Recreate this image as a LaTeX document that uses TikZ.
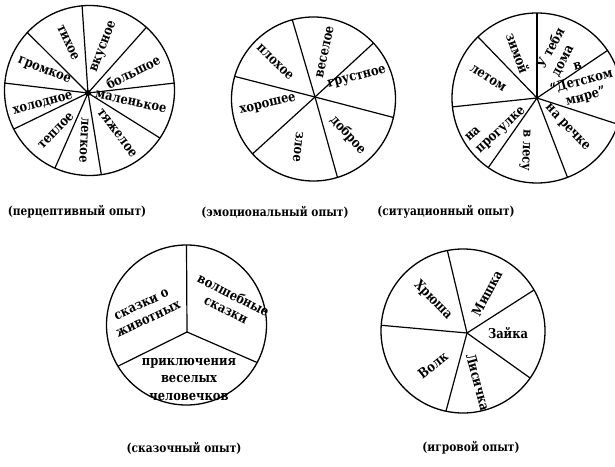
\documentclass[tikz,border=0pt]{standalone}
\usepackage{fontspec}
\setmainfont{DejaVu Serif}
\newfontfamily\wheelfont{DejaVu Serif}[FakeStretch=0.85]
\usetikzlibrary{calc}
\tikzset{
  rim/.style={line width=1.3pt},
  spoke/.style={line width=1.2pt},
  lbl/.style={inner sep=0pt, font=\wheelfont\bfseries\fontsize{13.5}{16}\selectfont},
  captext/.style={inner sep=0pt, font=\wheelfont\bfseries\fontsize{12.5}{14}\selectfont}
}
\begin{document}
\begin{tikzpicture}[x=1pt,y=1pt]
\clip (0,0) rectangle (615,466);
\fill[white] (0,0) rectangle (615,466);
% ---------- wheel 1 ----------
\coordinate (c1) at (89.5,375.5);
\coordinate (j1) at (88,373);
\draw[rim] (c1) circle (85);
\foreach \a in {95,48,5,-34,-82,-114,-153,175,137}
  \draw[spoke] (j1) -- ($(c1)+(\a:85)$);
\fill (j1) circle (3);
\node[lbl,rotate=-65] (t1) at (68,423) {тихое};
\node[lbl,rotate=69] (t2) at (104,419) {вкусное};
\node[lbl,rotate=27] (t3) at (133,394) {большое};
\node[lbl,rotate=-12] (t4) at (131,364) {маленькое};
\node[lbl,rotate=-53] (t5) at (117,333) {тяжелое};
\node[lbl,rotate=-93] (t6) at (84,326) {легкое};
\node[lbl,rotate=46] (t7) at (56,335) {теплое};
\node[lbl,rotate=15] (t8) at (43,362) {холодное};
\node[lbl,rotate=-22] (t9) at (44,395) {громкое};
% ---------- wheel 2 ----------
\coordinate (c2) at (313.5,367);
\coordinate (j2) at (315,369);
\draw[rim] (c2) circle (82);
\foreach \a in {105,43,-13,-73,-138,164}
  \draw[spoke] (j2) -- ($(c2)+(\a:82)$);
\node[lbl,rotate=-44] (e1) at (275,404) {плохое};
\node[lbl,rotate=78] (e2) at (325,414) {веселое};
\node[lbl,rotate=15] (e3) at (357,388) {грустное};
\node[lbl,rotate=-48] (e4) at (348,331) {доброе};
\node[lbl,rotate=-97] (e5) at (298,319) {злое};
\node[lbl,rotate=13] (e6) at (268,361) {хорошее};
% ---------- wheel 3 ----------
\coordinate (c3) at (537,368);
\draw[rim] (c3) circle (85);
\foreach \a in {90,34,-18,-69,-125,-174,134}
  \draw[spoke] (c3) -- ++(\a:85);
\node[lbl,rotate=-70] (s1) at (518,413) {зимой};
\node[lbl,rotate=62,align=left] (s2) at (558,414) {У тебя\\дома};
\node[lbl,rotate=15,align=center] (s3) at (582,383) {в\\“Детском\\мире”};
\node[lbl,rotate=-47] (s4) at (567,338) {на речке};
\node[lbl,rotate=-92] (s5) at (525,316) {в лесу};
\node[lbl,rotate=43,align=left] (s6) at (496,341) {на\\прогулке};
\node[lbl,rotate=-33] (s7) at (488,388) {летом};
% ---------- wheel 4 ----------
\coordinate (c4) at (186.5,141);
\coordinate (j4) at (187,134);
\draw[rim] (c4) circle (80);
\foreach \a in {90,-28,-149}
  \draw[spoke] (j4) -- ($(c4)+(\a:80)$);
\node[lbl,rotate=25,align=center] (f1) at (145,154) {сказки о\\животных};
\node[lbl,rotate=-27,align=center] (f2) at (230,164) {волшебные\\сказки};
\node[lbl,align=center,font=\wheelfont\bfseries\fontsize{13.5}{17.5}\selectfont] (f3) at (189,87) {приключения\\веселых\\человечков};
% ---------- wheel 5 ----------
\coordinate (c5) at (463,135);
\coordinate (j5) at (467,133);
\draw[rim] (c5) circle (82);
\foreach \a in {101,30,-35,-102,176}
  \draw[spoke] (j5) -- ($(c5)+(\a:82)$);
\node[lbl,rotate=-46] (g1) at (433,166) {Хрюша};
\node[lbl,rotate=62] (g2) at (487,173) {Мишка};
\node[lbl] (g3) at (508,133) {Зайка};
\node[lbl,rotate=-75] (g4) at (478,84) {Лисичка};
\node[lbl,rotate=38] (g5) at (433,101) {Волк};
% ---------- captions ----------
\node[captext] (k1) at (77,254) {(перцептивный опыт)};
\node[captext] (k2) at (275,254) {(эмоциональный опыт)};
\node[captext] (k3) at (446,254) {(ситуационный опыт)};
\node[captext] (k4) at (184,18) {(сказочный опыт)};
\node[captext] (k5) at (471,18) {(игровой опыт)};
\end{tikzpicture}
\end{document}
